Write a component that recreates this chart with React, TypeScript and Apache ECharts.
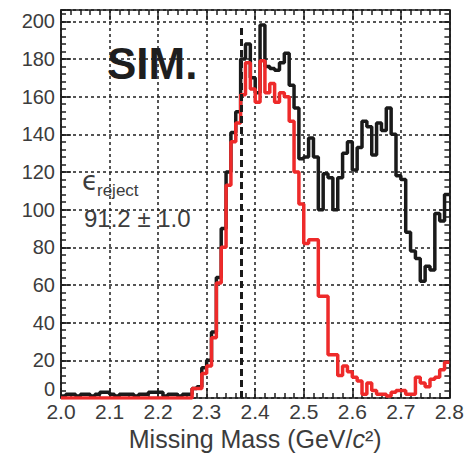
import React, { useEffect, useRef } from "react";
import * as echarts from "echarts";

// Histogram binning (bins of 0.01 GeV/c^2 starting at 2.00)
const binStart = 2.0;
const binWidth = 0.01;

// All events (black), per bin 2.00 ... 2.79
const allCounts = [
  1, 2, 2, 1, 2, 2, 1, 2, 3, 3,
  2, 1, 2, 2, 2, 1, 2, 2, 3, 3,
  3, 1, 2, 2, 1, 2, 2, 5, 6, 16,
  20, 35, 64, 90, 120, 141, 152, 180, 188, 170,
  162, 198, 176, 175, 174, 178, 183, 166, 154, 127,
  128, 138, 128, 100, 119, 117, 100, 117, 130, 136,
  121, 133, 147, 144, 129, 146, 142, 154, 140, 118,
  116, 88, 78, 74, 62, 70, 68, 98, 94, 108,
];

// After rejection (red), per bin 2.00 ... 2.79
const keptCounts = [
  0, 0, 0, 0, 0, 0, 0, 0, 0, 0,
  0, 0, 0, 0, 0, 0, 0, 0, 0, 0,
  0, 0, 0, 0, 0, 0, 0, 5, 5, 13,
  17, 32, 61, 80, 113, 136, 146, 161, 178, 164,
  157, 179, 162, 167, 157, 162, 160, 147, 120, 103,
  82, 84, 84, 54, 54, 23, 23, 12, 17, 14,
  11, 9, 2, 8, 4, 2, 2, 1, 3, 4,
  4, 2, 2, 11, 8, 6, 10, 11, 15, 19,
];

const cutPosition = 2.372;
const cutTop = 197;

const xMin = 2.0;
const xMax = 2.8;
const yMin = 0;
const yMax = 206;

const rejectLabel = "91.2 ± 1.0";
const zeroLabel = "0";

function toSteps(values: number[]) {
  const pts: [number, number][] = values.map((v, i) => [
    +(binStart + i * binWidth).toFixed(2),
    v,
  ]);
  pts.push([+(binStart + values.length * binWidth).toFixed(2), values[values.length - 1]]);
  return pts;
}

const FONT = "Liberation Sans";
const AX = "#1e1e1e";
const TXT = "#3c3c3c";

export default function App() {
  const ref = useRef<HTMLDivElement>(null);
  useEffect(() => {
    if (!ref.current) return;
    const chart = echarts.init(ref.current, undefined, { renderer: "svg" });
    const lineStyle = { color: AX, width: 1.5 };
    const grid = { left: 61, right: 15, top: 10, bottom: 59 };
    const baseX = {
      type: "value" as const,
      min: xMin,
      max: xMax,
      interval: 0.1,
      axisLine: { show: true, onZero: false, lineStyle },
      axisTick: { show: true, inside: true, length: 10, lineStyle },
      minorTick: { show: true, splitNumber: 5, length: 5, lineStyle },
    };
    const yTicks = (pos: "left" | "right", interval: number, len: number, labels: boolean, split: boolean) => ({
      type: "value" as const,
      position: pos,
      min: yMin,
      max: yMax,
      interval,
      axisLine: { show: true, onZero: false, lineStyle },
      axisTick: { show: true, inside: true, length: len, lineStyle },
      axisLabel: labels
        ? {
            show: true,
            fontFamily: FONT,
            fontSize: 20,
            color: TXT,
            margin: 6,
            formatter: (v: number) => (v !== 0 && v % 20 === 0 ? String(v) : ""),
          }
        : { show: false },
      splitLine: split
        ? { show: true, lineStyle: { color: AX, width: 1.5, type: [3, 3] } }
        : { show: false },
    });
    chart.setOption({
      animation: false,
      backgroundColor: "#fff",
      grid,
      xAxis: [
        {
          ...baseX,
          position: "bottom",
          axisLabel: {
            fontFamily: FONT,
            fontSize: 21,
            color: TXT,
            margin: 3,
            formatter: (v: number) => v.toFixed(1),
          },
          splitLine: { show: true, lineStyle: { color: AX, width: 1.5, type: [3, 3] } },
          name: "{a|Missing Mass (GeV/}{i|c}{s|²}{a|)}",
          nameLocation: "middle",
          nameGap: 28,
          nameTextStyle: {
            rich: {
              a: { fontFamily: FONT, fontSize: 25, color: TXT },
              i: { fontFamily: FONT, fontSize: 25, color: TXT, fontStyle: "italic" },
              s: { fontFamily: FONT, fontSize: 25, color: TXT },
            },
          },
        },
        {
          ...baseX,
          position: "top",
          axisLabel: { show: false },
          splitLine: { show: false },
        },
      ],
      yAxis: [
        yTicks("left", 20, 10, true, true),
        yTicks("left", 4, 5, false, false),
        yTicks("right", 20, 10, false, false),
        yTicks("right", 4, 5, false, false),
      ],
      series: [
        {
          type: "line",
          step: "end",
          xAxisIndex: 0,
          yAxisIndex: 0,
          data: toSteps(allCounts),
          showSymbol: false,
          symbol: "none",
          lineStyle: { color: "#1a1a1a", width: 3.5 },
          z: 3,
          markLine: {
            silent: true,
            symbol: "none",
            label: { show: false },
            lineStyle: { color: "#1a1a1a", width: 3, type: [7, 4] },
            data: [[{ coord: [cutPosition, 0] }, { coord: [cutPosition, cutTop] }]],
          },
        },
        {
          type: "line",
          step: "end",
          xAxisIndex: 0,
          yAxisIndex: 0,
          data: toSteps(keptCounts),
          showSymbol: false,
          symbol: "none",
          lineStyle: { color: "#ee2a2a", width: 3.5 },
          z: 4,
        },
      ],
      graphic: [
        {
          type: "text",
          x: 55,
          y: 399,
          style: {
            text: zeroLabel,
            font: `20px "${FONT}"`,
            fill: TXT,
            textAlign: "right",
            textVerticalAlign: "bottom",
          },
          z: 10,
        },
        {
          type: "text",
          x: 107,
          y: 41,
          style: { text: "SIM.", font: `bold 44px "${FONT}"`, fill: "#1e1e1e", textVerticalAlign: "top" },
          z: 10,
        },
        {
          type: "text",
          x: 82,
          y: 168,
          style: { text: "ϵ", font: `26px "DejaVu Sans"`, fill: TXT, textVerticalAlign: "top" },
          z: 10,
        },
        {
          type: "text",
          x: 97,
          y: 182,
          style: { text: "reject", font: `17px "${FONT}"`, fill: TXT, textVerticalAlign: "top" },
          z: 10,
        },
        {
          type: "text",
          x: 84,
          y: 206,
          style: { text: rejectLabel, font: `24px "${FONT}"`, fill: TXT, textVerticalAlign: "top" },
          z: 10,
        },
      ],
    });
    return () => chart.dispose();
  }, []);
  return (
    <div
      ref={ref}
      style={{ position: "fixed", left: 0, top: 0, width: 467, height: 457, background: "#fff" }}
    />
  );
}
